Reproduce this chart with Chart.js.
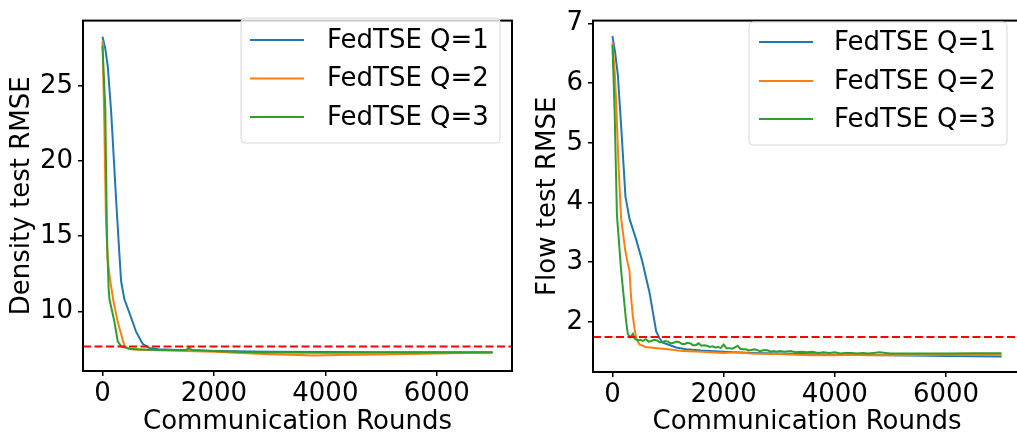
<!DOCTYPE html>
<html>
<head>
<meta charset="utf-8">
<script src="https://cdn.jsdelivr.net/npm/chart.js@4.4.1/dist/chart.umd.min.js"></script>
<style>
  html, body { margin: 0; padding: 0; background: #fff; overflow: hidden; width: 1017px; height: 438px; }
  .wrap { position: absolute; top: 0; }
</style>
</head>
<body>
<div class="wrap" style="left:0px;width:520px;height:438px;"><canvas id="c1" width="520" height="438"></canvas></div>
<div class="wrap" style="left:520px;width:512px;height:438px;"><canvas id="c2" width="512" height="438"></canvas></div>
<script>
// ---------------- DATA ----------------
const seriesLabels = ['FedTSE Q=1', 'FedTSE Q=2', 'FedTSE Q=3'];
const xTicks = [0, 2000, 4000, 6000];
const densityYTicks = [10, 15, 20, 25];
const flowYTicks = [2, 3, 4, 5, 6, 7];
const densityBaseline = 7.66;
const flowBaseline = 1.746;

// Density test RMSE  [round, value]
const densityQ1 = [[0,28.3],[50,27.5],[95,26.3],[155,23.3],[245,17.4],[300,14.0],[334,12.0],[393,10.8],[482,9.9],[600,8.66],[720,7.83],[840,7.55],[1000,7.47],[1500,7.40],[2000,7.36],[3000,7.30],[4000,7.28],[5000,7.27],[6000,7.27],[7000,7.26]];
const densityQ2 = [[0,28.0],[30,23.0],[60,16.5],[90,13.5],[140,12.0],[200,10.6],[280,9.2],[393,7.7],[450,7.55],[541,7.45],[800,7.42],[1000,7.40],[1500,7.36],[2000,7.30],[2500,7.22],[3000,7.14],[3500,7.08],[3800,7.06],[4200,7.08],[5000,7.12],[6000,7.18],[7000,7.25]];
const densityQ3 = [[0,27.7],[50,23.5],[80,15.0],[110,11.5],[125,10.8],[214,9.3],[273,8.0],[334,7.66],[482,7.5],[700,7.46],[1000,7.42],[1500,7.42],[1554,7.58],[1600,7.42],[2000,7.36],[2500,7.28],[3000,7.25],[4000,7.24],[5000,7.25],[6000,7.25],[7000,7.27]];

// Flow test RMSE  [round, value]
const flowQ1 = [[0,6.79],[50,6.5],[96,6.15],[156,5.29],[234,4.10],[306,3.73],[420,3.4],[535,3.02],[667,2.49],[787,1.84],[850,1.72],[907,1.65],[1000,1.62],[1147,1.57],[1327,1.54],[1600,1.52],[2000,1.50],[2500,1.48],[3000,1.47],[4000,1.45],[5000,1.44],[6000,1.43],[7000,1.42]];
const flowQ2 = [[0,6.69],[40,6.2],[66,5.7],[110,4.6],[156,3.73],[230,3.2],[276,2.98],[306,2.86],[336,2.4],[366,2.1],[396,1.89],[430,1.72],[486,1.62],[600,1.58],[800,1.56],[1000,1.54],[1261,1.51],[1600,1.50],[2000,1.48],[2200,1.49],[2500,1.47],[2800,1.46],[3000,1.46],[3300,1.45],[3600,1.44],[4000,1.44],[4300,1.45],[4600,1.44],[5000,1.44],[6000,1.45],[7000,1.45]];
const flowQ3 = [[0,6.64],[40,5.5],[80,3.8],[156,2.86],[247,2.0],[276,1.80],[320,1.74],[370,1.80],[400,1.72],[450,1.69],[500,1.70],[550,1.68],[600,1.71],[650,1.67],[700,1.68],[750,1.70],[800,1.69],[850,1.66],[900,1.66],[950,1.68],[1000,1.67],[1050,1.64],[1100,1.65],[1150,1.67],[1200,1.66],[1250,1.63],[1300,1.63],[1350,1.65],[1400,1.64],[1450,1.61],[1500,1.61],[1550,1.64],[1600,1.60],[1650,1.61],[1700,1.60],[1750,1.58],[1800,1.59],[1850,1.57],[1900,1.58],[1950,1.56],[2000,1.62],[2050,1.56],[2100,1.56],[2150,1.55],[2200,1.57],[2250,1.60],[2300,1.55],[2350,1.54],[2400,1.54],[2450,1.52],[2500,1.53],[2550,1.54],[2600,1.53],[2650,1.51],[2700,1.52],[2750,1.53],[2800,1.52],[2850,1.50],[2900,1.51],[2950,1.50],[3000,1.51],[3100,1.50],[3200,1.51],[3300,1.49],[3400,1.50],[3500,1.49],[3600,1.50],[3700,1.48],[3800,1.49],[3900,1.48],[4000,1.49],[4100,1.47],[4200,1.48],[4300,1.48],[4400,1.47],[4500,1.48],[4600,1.47],[4700,1.48],[4800,1.49],[5000,1.47],[5500,1.47],[6000,1.47],[6500,1.475],[7000,1.475]];

// ---------------- STYLE ----------------
const FONT = 'DejaVu Sans';
const FS = 26;
const COLORS = ['#1f77b4', '#ff7f0e', '#2ca02c'];
const X_MIN = -350, X_MAX = 7350;

const toXY = arr => arr.map(p => ({x: p[0], y: p[1]}));

const framePlugin = {
  id: 'frame',
  afterDatasetsDraw(chart) {
    const {ctx, chartArea: a} = chart;
    ctx.save();
    ctx.strokeStyle = '#000';
    ctx.lineWidth = 2;
    ctx.strokeRect(a.left, a.top, a.right - a.left, a.bottom - a.top);
    ctx.restore();
  }
};

const boxLegendPlugin = {
  id: 'boxLegend',
  afterDraw(chart, args, opts) {
    const {ctx} = chart;
    const {x, y, w, h, lineX0, lineX1, textX, rows} = opts;
    ctx.save();
    const r = 4;
    ctx.beginPath();
    ctx.moveTo(x + r, y);
    ctx.arcTo(x + w, y, x + w, y + h, r);
    ctx.arcTo(x + w, y + h, x, y + h, r);
    ctx.arcTo(x, y + h, x, y, r);
    ctx.arcTo(x, y, x + w, y, r);
    ctx.closePath();
    ctx.fillStyle = 'rgba(255,255,255,0.8)';
    ctx.fill();
    ctx.strokeStyle = '#d6d6d6';
    ctx.lineWidth = 1;
    ctx.stroke();
    ctx.font = FS + 'px "' + FONT + '"';
    ctx.textBaseline = 'middle';
    ctx.fillStyle = '#000';
    for (let i = 0; i < seriesLabels.length; i++) {
      const ds = chart.data.datasets[i];
      ctx.strokeStyle = ds.borderColor;
      ctx.lineWidth = 2;
      ctx.beginPath();
      ctx.moveTo(lineX0, rows[i]);
      ctx.lineTo(lineX1, rows[i]);
      ctx.stroke();
      ctx.fillText(ds.label, textX, rows[i] + 1);
    }
    ctx.restore();
  }
};

function makeChart(canvasId, series, baseline, yMin, yMax, yTicks, yTitle, layout, legendOpts) {
  const datasets = series.map((s, i) => ({
    label: seriesLabels[i],
    data: toXY(s),
    borderColor: COLORS[i],
    backgroundColor: COLORS[i],
    borderWidth: 2,
    pointRadius: 0,
    tension: 0,
    order: 3 - i
  }));
  datasets.push({
    label: 'baseline',
    data: [{x: X_MIN, y: baseline}, {x: X_MAX, y: baseline}],
    borderColor: '#ff0000',
    borderWidth: 2,
    borderDash: [8, 3.5],
    pointRadius: 0,
    order: 0
  });
  return new Chart(document.getElementById(canvasId), {
    type: 'line',
    data: {datasets},
    plugins: [framePlugin, boxLegendPlugin],
    options: {
      responsive: false,
      animation: false,
      devicePixelRatio: 1,
      layout: {padding: {top: layout.top, right: layout.right, left: 0, bottom: 0}},
      plugins: {
        legend: {display: false},
        tooltip: {enabled: false},
        boxLegend: legendOpts
      },
      scales: {
        x: {
          type: 'linear',
          min: X_MIN, max: X_MAX,
          afterBuildTicks: sc => { sc.ticks = xTicks.map(v => ({value: v})); },
          afterFit: sc => { sc.height = layout.xHeight; },
          grid: {drawOnChartArea: false, drawTicks: true, tickLength: 5, color: '#000', lineWidth: 1.5},
          border: {display: true, color: '#000', width: 2},
          ticks: {color: '#000', font: {family: FONT, size: FS}, padding: 3, maxRotation: 0, autoSkip: false,
                  callback: v => String(v)},
          title: {display: true, text: 'Communication Rounds', color: '#000', font: {family: FONT, size: FS}, padding: {top: 0, bottom: 0}}
        },
        y: {
          type: 'linear',
          min: yMin, max: yMax,
          afterBuildTicks: sc => { sc.ticks = yTicks.map(v => ({value: v})); },
          afterFit: sc => { sc.width = layout.yWidth; },
          grid: {drawOnChartArea: false, drawTicks: true, tickLength: 5, color: '#000', lineWidth: 1.5},
          border: {display: true, color: '#000', width: 2},
          ticks: {color: '#000', font: {family: FONT, size: FS}, padding: 5, autoSkip: false,
                  callback: v => String(v)},
          title: {display: true, text: yTitle, color: '#000', font: {family: FONT, size: FS}, padding: {top: layout.yTitlePad, bottom: 0}}
        }
      }
    }
  });
}

makeChart('c1', [densityQ1, densityQ2, densityQ3], densityBaseline, 6.02, 29.37, densityYTicks, 'Density test RMSE',
  {top: 5, right: 8, yWidth: 83, xHeight: 67, yTitlePad: 7},
  {x: 241, y: 18, w: 259, h: 125, lineX0: 250, lineX1: 304, textX: 327, rows: [40, 78.5, 117]});

makeChart('c2', [flowQ1, flowQ2, flowQ3], flowBaseline, 1.16, 7.05, flowYTicks, 'Flow test RMSE',
  {top: 8, right: 11, yWidth: 73, xHeight: 66, yTitlePad: 13},
  {x: 229, y: 22, w: 258, h: 123, lineX0: 239, lineX1: 293, textX: 314, rows: [42, 81, 119]});
</script>
</body>
</html>
